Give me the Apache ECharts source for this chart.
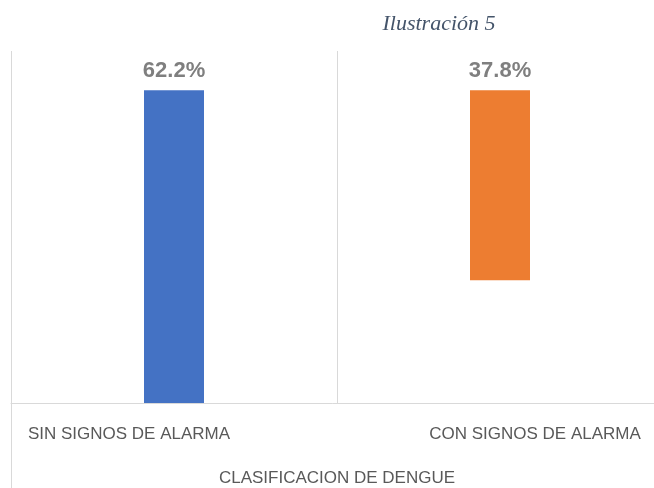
<!DOCTYPE html>
<html>
<head>
<meta charset="utf-8">
<script src="https://cdn.jsdelivr.net/npm/echarts@6/dist/echarts.min.js"></script>
<style>
  html, body { margin: 0; padding: 0; background: #fff; }
  #chart { width: 654px; height: 488px; }
</style>
</head>
<body>
<div id="chart"></div>
<script>
( () => {
    const categories = [ 'SIN SIGNOS DE ALARMA', 'CON SIGNOS DE ALARMA' ];
    const baseValues = [ 0, 24.4 ];
    const percentValues = [ 62.2, 37.8 ];
    const barColors = [ '#4472c4', '#ed7d31' ];

    const chart = echarts.init( document.getElementById( 'chart' ), null, { renderer: 'canvas' } );

    const option = {
        animation: false,
        title: {
            text: 'Ilustración 5',
            left: 434,
            top: 8,
            textAlign: 'center',
            textStyle: {
                fontFamily: 'Liberation Serif',
                fontStyle: 'italic',
                fontWeight: 'normal',
                fontSize: 22,
                color: '#44546a',
            },
        },
        graphic: [
            {
                type: 'line',
                shape: { x1: 11.5, y1: 51, x2: 11.5, y2: 488 },
                style: { stroke: '#d9d9d9', lineWidth: 1 },
                silent: true,
            },
        ],
        grid: {
            left: 11,
            width: 652,
            top: 51,
            bottom: 85,
            containLabel: false,
            outerBoundsMode: 'none',
        },
        xAxis: {
            type: 'category',
            data: categories,
            axisTick: { show: false },
            axisLine: { lineStyle: { color: '#d9d9d9', width: 1 } },
            splitLine: { show: true, interval: 0, lineStyle: { color: '#d9d9d9', width: 1 } },
            axisLabel: {
                interval: 0,
                margin: 23,
                formatter: ( value, index ) => index === 0 ? '{a|' + value + '}' : '{b|' + value + '}',
                rich: {
                    a: {
                        fontFamily: 'Liberation Sans',
                        fontSize: 17,
                        color: '#595959',
                        padding: [ 0, 90, 0, 0 ],
                    },
                    b: {
                        fontFamily: 'Liberation Sans',
                        fontSize: 17,
                        color: '#595959',
                        padding: [ 0, 0, 0, 70 ],
                    },
                },
            },
            name: 'CLASIFICACION DE DENGUE',
            nameLocation: 'middle',
            nameGap: 67,
            nameTextStyle: {
                fontFamily: 'Liberation Sans',
                fontSize: 17,
                color: '#595959',
            },
        },
        yAxis: {
            type: 'value',
            min: 0,
            max: 70,
            show: false,
            splitLine: { show: false },
        },
        series: [
            {
                type: 'bar',
                stack: 'total',
                barWidth: 60,
                silent: true,
                itemStyle: { color: 'transparent' },
                data: baseValues,
            },
            {
                type: 'bar',
                stack: 'total',
                barWidth: 60,
                data: percentValues.map( ( v, i ) => ( {
                    value: v,
                    itemStyle: { color: barColors[ i ] },
                } ) ),
                label: {
                    show: true,
                    position: 'top',
                    distance: 8,
                    formatter: ( p ) => p.value.toFixed( 1 ) + '%',
                    fontFamily: 'Liberation Sans',
                    fontWeight: 'bold',
                    fontSize: 22,
                    color: '#7f7f7f',
                },
            },
        ],
    };

    chart.setOption( option );
} ) ();
</script>
</body>
</html>
